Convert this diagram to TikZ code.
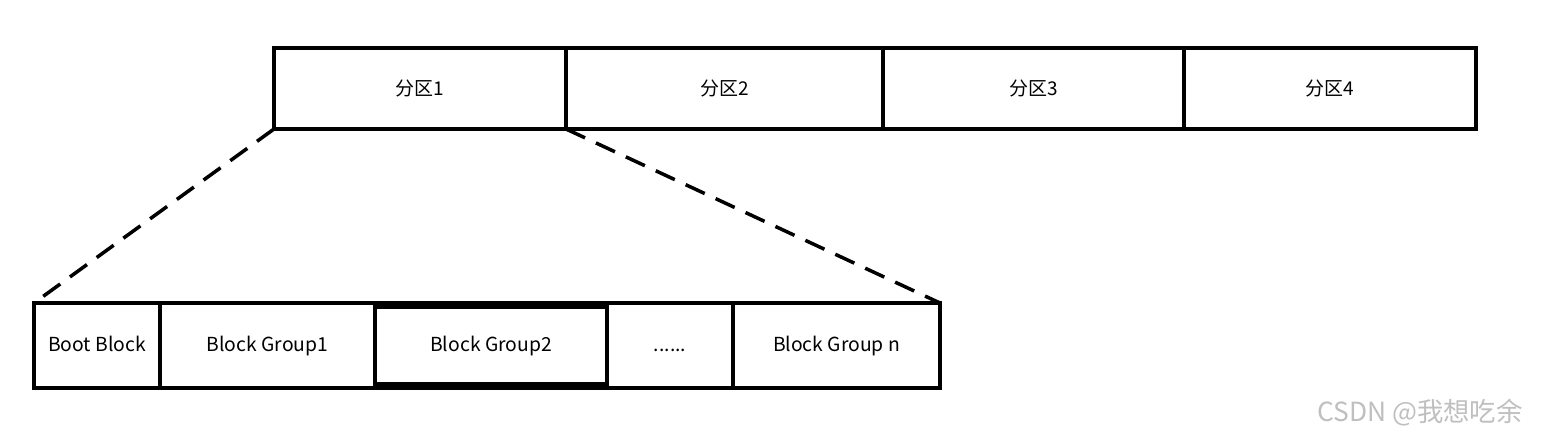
\documentclass[tikz,border=0pt]{standalone}
\usepackage{fontspec}
\setmainfont{Noto Sans CJK SC}
\usepackage{tikz}
\usetikzlibrary{positioning}
\usepackage{xcolor}

\begin{document}
\begin{tikzpicture}[
  part/.style  = {draw, line width=2.8pt, outer sep=0pt, inner sep=0pt,
                  minimum height=1.62cm, font=\fontsize{10.8}{12}\selectfont},
  blk/.style   = {draw, line width=2.8pt, outer sep=0pt, inner sep=0pt,
                  minimum height=1.7cm, font=\fontsize{11}{13}\selectfont,
                  text height=1.3ex, text depth=0pt},
  zoom/.style  = {line width=2pt, dash pattern=on 0.42cm off 0.24cm},
  node distance = 0pt,
]
\useasboundingbox (0,0) rectangle (30.88,-8.8);

% ── Partitions ───────────────────────────────────────────────────────────────
\node[part, minimum width=5.84cm, anchor=north west] (p1) at (5.48,-0.96) {分区1};
\node[part, minimum width=6.34cm, right=of p1]        (p2) {分区2};
\node[part, minimum width=6.02cm, right=of p2]        (p3) {分区3};
\node[part, minimum width=5.84cm, right=of p3]        (p4) {分区4};

% ── Blocks of partition 1 ────────────────────────────────────────────────────
\node[blk, minimum width=2.52cm, anchor=north west] (boot) at (0.68,-6.06) {Boot Block};
\node[blk, minimum width=4.3cm,  right=of boot]      (bg1)  {Block Group1};
\node[blk, minimum width=4.64cm, minimum height=1.54cm, right=of bg1] (bg2) {Block Group2};
\node[blk, minimum width=2.52cm, right=of bg2]       (dots) {......};
\node[blk, minimum width=4.14cm, right=of dots]      (bgn)  {Block Group n};

\draw[line width=2.8pt] (boot.north west) rectangle (bgn.south east);

% ── Zoom lines ───────────────────────────────────────────────────────────────
\draw[zoom] (p1.south west) -- (boot.north west);
\draw[zoom] (p1.south east) -- (bgn.north east);

\node[text=black!25, font=\fontsize{15}{17}\selectfont] (mark) at (28.4,-8.26) {CSDN @我想吃余};

\end{tikzpicture}
\end{document}
